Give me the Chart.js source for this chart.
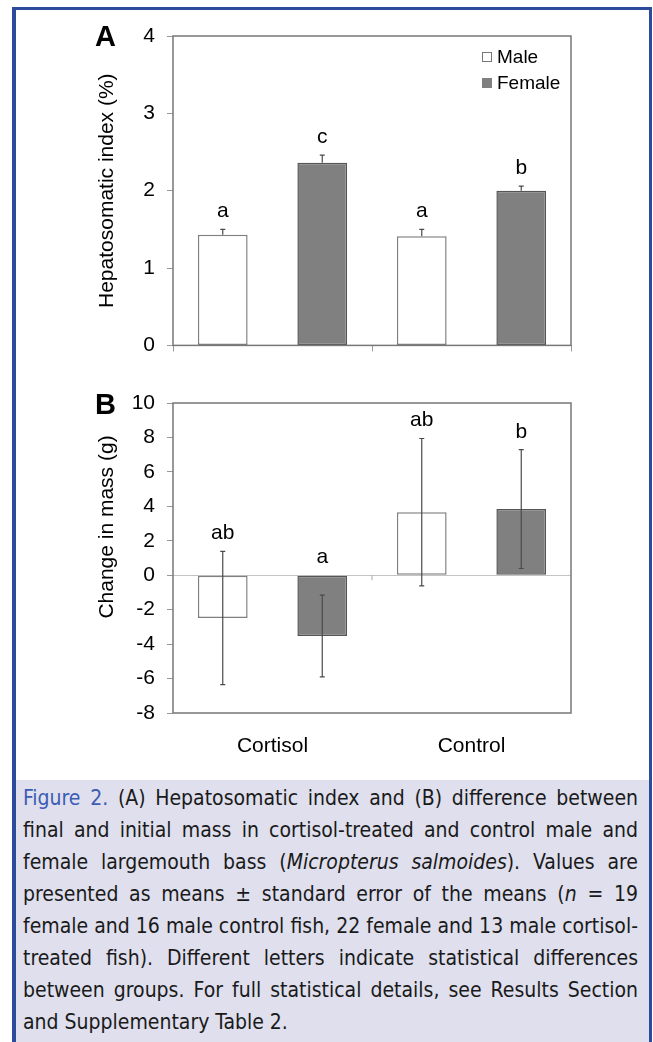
<!DOCTYPE html>
<html>
<head>
<meta charset="utf-8">
<script src="https://cdn.jsdelivr.net/npm/chart.js@4.4.1/dist/chart.umd.min.js"></script>
<style>
  body{margin:0;background:#fff;}
  #page{position:relative;width:653px;height:1042px;overflow:hidden;background:#fff;font-family:"Liberation Sans",Arial,sans-serif;}
  .frame{position:absolute;left:12px;top:7px;width:640px;height:1060px;box-sizing:border-box;border-top:3px solid #2d4b9d;border-left:4px solid #2d4b9d;border-right:3px solid #2d4b9d;}
  canvas{position:absolute;left:0;}
  #cA{top:0;}
  #cB{top:360px;}
  .panel{position:absolute;font-weight:bold;font-size:29px;color:#000;line-height:29px;}
  #caption{position:absolute;left:16px;top:780px;width:633px;height:262px;background:#dfdfed;box-sizing:border-box;padding:2px 11px 0 7px;
    font-family:"Liberation Sans Narrow","DejaVu Sans Condensed","Arial Narrow",sans-serif;font-size:21px;line-height:32px;color:#1a1a1a;}
  #caption .ln{text-align:justify;text-align-last:justify;}
  #caption .ln.last{text-align-last:left;}
  #caption .fig{color:#3b5cb4;}
</style>
</head>
<body>
<div id="page">
  <div class="frame"></div>
  <canvas id="cA" width="653" height="370"></canvas>
  <canvas id="cB" width="653" height="420"></canvas>
  <div class="panel" style="left:95px;top:22px;">A</div>
  <div class="panel" style="left:95px;top:390px;">B</div>
  <div id="caption">
    <div class="ln"><span class="fig">Figure 2.</span> (A) Hepatosomatic index and (B) difference between</div>
    <div class="ln">final and initial mass in cortisol-treated and control male and</div>
    <div class="ln">female largemouth bass (<i>Micropterus salmoides</i>). Values are</div>
    <div class="ln">presented as means ± standard error of the means (<i>n</i> = 19</div>
    <div class="ln">female and 16 male control fish, 22 female and 13 male cortisol-</div>
    <div class="ln">treated fish). Different letters indicate statistical differences</div>
    <div class="ln">between groups. For full statistical details, see Results Section</div>
    <div class="ln last">and Supplementary Table 2.</div>
  </div>
</div>
<script>
// groups and series
const categories = ['Cortisol', 'Control'];
const seriesNames = ['Male', 'Female'];

// panel A: hepatosomatic index (%)
const hsiMale = [1.43, 1.41];
const hsiMaleSE = [0.07, 0.09];
const hsiFemale = [2.36, 2.00];
const hsiFemaleSE = [0.10, 0.06];
const hsiLettersMale = ['a', 'a'];
const hsiLettersFemale = ['c', 'b'];
const hsiTicks = [0, 1, 2, 3, 4];

// panel B: change in mass (g)
const massMale = [-2.48, 3.66];
const massMaleSE = [3.87, 4.28];
const massFemale = [-3.53, 3.84];
const massFemaleSE = [2.37, 3.45];
const massLettersMale = ['ab', 'ab'];
const massLettersFemale = ['a', 'b'];
const massTicks = [-8, -6, -4, -2, 0, 2, 4, 6, 8, 10];

const FONT = '"Liberation Sans", Arial, sans-serif';
const maleFill = '#ffffff', maleLine = '#808080';
const femaleFill = '#808080', femaleLine = '#555555';

// frame, error bars, letters, legend, y title
const extras = {
  id: 'extras',
  afterDatasetsDraw(chart, args, o){
    const ctx = chart.ctx, a = chart.chartArea;
    const y = chart.scales.y, x = chart.scales.x;
    ctx.save();
    // zero line tick (panel B)
    if(o.midTick){
      const mx = (x.getPixelForValue(0) + x.getPixelForValue(1)) / 2;
      const y0 = y.getPixelForValue(0);
      ctx.strokeStyle = '#aaa'; ctx.lineWidth = 1;
      ctx.beginPath(); ctx.moveTo(mx, y0); ctx.lineTo(mx, y0 + 5); ctx.stroke();
    }
    // error bars + letters
    chart.data.datasets.forEach((ds, i) => {
      const meta = chart.getDatasetMeta(i);
      meta.data.forEach((el, j) => {
        const v = ds.data[j], se = ds.se[j];
        const top = y.getPixelForValue(v + se);
        const bot = o.both ? y.getPixelForValue(v - se) : y.getPixelForValue(v);
        ctx.strokeStyle = '#4a4a4a'; ctx.lineWidth = 1.2;
        ctx.beginPath();
        ctx.moveTo(el.x, top); ctx.lineTo(el.x, bot);
        ctx.moveTo(el.x - 2.5, top); ctx.lineTo(el.x + 2.5, top);
        if(o.both){ ctx.moveTo(el.x - 2.5, bot); ctx.lineTo(el.x + 2.5, bot); }
        ctx.stroke();
        const ly = y.getPixelForValue(Math.max(0, v + se)) - 12;
        ctx.fillStyle = '#000'; ctx.font = '21px ' + FONT;
        ctx.textAlign = 'center'; ctx.textBaseline = 'alphabetic';
        ctx.fillText(ds.letters[j], el.x, ly);
      });
    });
    // plot frame
    ctx.strokeStyle = '#777'; ctx.lineWidth = 1.5;
    ctx.strokeRect(a.left, a.top, a.right - a.left, a.bottom - a.top);
    // legend
    if(o.legend){
      chart.data.datasets.forEach((ds, i) => {
        const cy = a.top + 21 + i * 26;
        const bx = a.right - 89;
        ctx.fillStyle = ds.backgroundColor; ctx.fillRect(bx, cy - 5, 10, 10);
        ctx.strokeStyle = ds.backgroundColor === maleFill ? '#777' : ds.backgroundColor;
        ctx.lineWidth = 1; ctx.strokeRect(bx + 0.5, cy - 4.5, 9, 9);
        ctx.fillStyle = '#000'; ctx.font = '19px ' + FONT;
        ctx.textAlign = 'left'; ctx.textBaseline = 'middle';
        ctx.fillText(ds.label, bx + 15, cy + 1);
      });
    }
    // y axis title
    ctx.translate(107, (a.top + a.bottom) / 2 + o.titleShift);
    ctx.rotate(-Math.PI / 2);
    ctx.fillStyle = '#000'; ctx.font = '21px ' + FONT;
    ctx.textAlign = 'center'; ctx.textBaseline = 'middle';
    ctx.fillText(o.title, 0, 0);
    ctx.restore();
  }
};

function makeChart(id, male, maleSE, maleL, female, femaleSE, femaleL, ticks, opt){
  return new Chart(document.getElementById(id), {
    type: 'bar',
    data: {
      labels: categories,
      datasets: [
        {label: seriesNames[0], data: male, se: maleSE, letters: maleL,
         backgroundColor: maleFill, borderColor: maleLine, borderWidth: 1.5, borderSkipped: false},
        {label: seriesNames[1], data: female, se: femaleSE, letters: femaleL,
         backgroundColor: femaleFill, borderColor: femaleLine, borderWidth: 1.5, borderSkipped: false}
      ]
    },
    options: {
      responsive: false, animation: false, devicePixelRatio: 1,
      layout: {padding: {left: 0, right: 82, top: opt.padTop, bottom: opt.padBottom}},
      datasets: {bar: {categoryPercentage: 1.0, barPercentage: 0.5}},
      plugins: {legend: {display: false}, tooltip: {enabled: false},
        extras: {both: opt.both, legend: opt.legend, midTick: opt.both, title: opt.title, titleShift: opt.titleShift}},
      scales: {
        x: {
          afterFit: s => { s.height = opt.xHeight; },
          border: {display: false},
          grid: opt.both ? {display: false, drawTicks: false}
                         : {offset: true, drawOnChartArea: false, tickLength: 6, color: '#999', lineWidth: 1},
          ticks: {display: opt.both, padding: 21, color: '#000', font: {family: FONT, size: 21}}
        },
        y: {
          min: ticks[0], max: ticks[ticks.length - 1],
          afterBuildTicks: s => { s.ticks = ticks.map(v => ({value: v})); },
          afterFit: s => { s.width = 173; },
          border: {display: false},
          grid: {drawOnChartArea: opt.both, tickLength: 6, tickColor: '#999', lineWidth: 1,
                 color: c => (c.tick && c.tick.value === 0) ? '#c4c4c4' : 'rgba(0,0,0,0)'},
          ticks: {padding: 12, color: '#000', font: {family: FONT, size: 21}}
        }
      }
    },
    plugins: [extras]
  });
}

makeChart('cA', hsiMale, hsiMaleSE, hsiLettersMale, hsiFemale, hsiFemaleSE, hsiLettersFemale, hsiTicks,
  {padTop: 36, padBottom: 13, xHeight: 10, both: false, legend: true, title: 'Hepatosomatic index (%)', titleShift: 0});
makeChart('cB', massMale, massMaleSE, massLettersMale, massFemale, massFemaleSE, massLettersFemale, massTicks,
  {padTop: 43, padBottom: 7, xHeight: 60, both: true, legend: false, title: 'Change in mass (g)', titleShift: -31});
</script>
</body>
</html>
